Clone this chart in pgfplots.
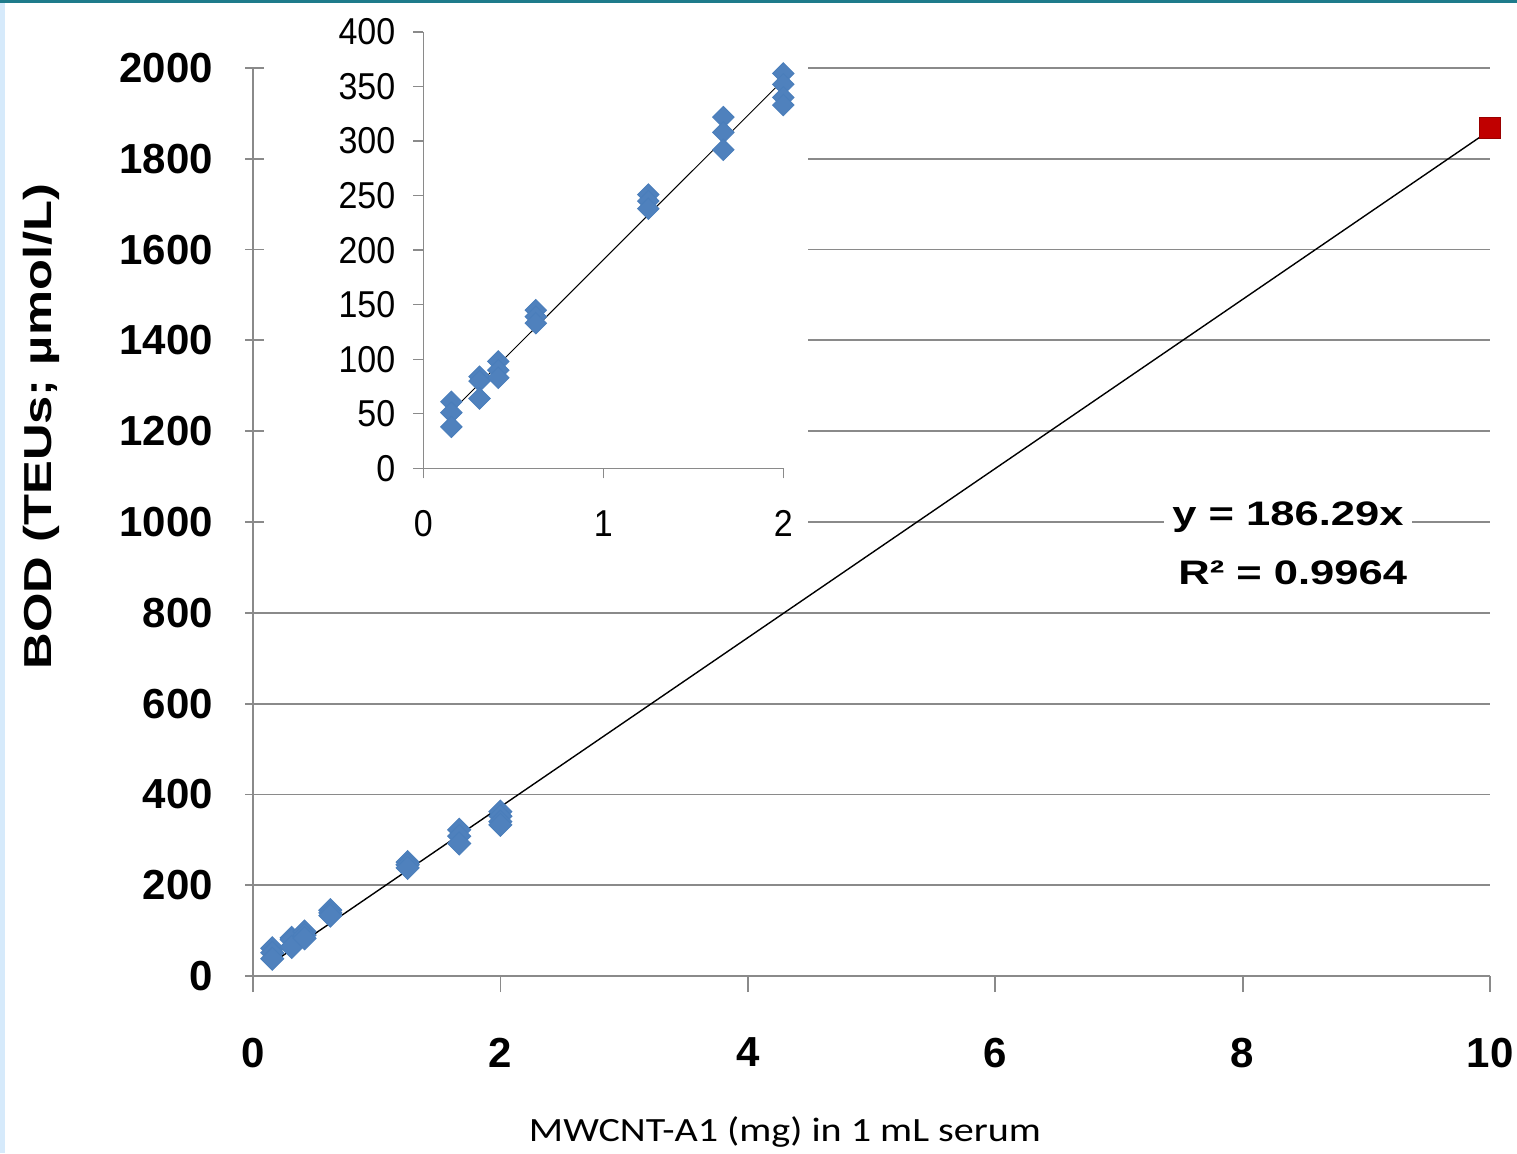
\documentclass[border=0pt]{standalone}
\usepackage{pgfplots}
\pgfplotsset{compat=1.18}
\usepackage{pgfplotstable}
\usepackage{graphicx}
\usepackage{fontspec}
\setmainfont{Liberation Sans}
\newfontfamily\calibri{Carlito}

\definecolor{excelblue}{HTML}{4F81BD}
\definecolor{exceledge}{HTML}{4A7EBB}
\definecolor{excelred}{HTML}{C00000}
\definecolor{gridgray}{HTML}{8A8A8A}
\definecolor{frameteal}{HTML}{1E7B8B}
\definecolor{framesky}{HTML}{D6EAFB}

% BOD readings for each MWCNT-A1 load (mg per mL serum)
\pgfplotstableread{
x y
0.156 61
0.156 51
0.156 38
0.3125 84
0.3125 80
0.3125 64
0.4167 98
0.4167 90
0.4167 83
0.625 145
0.625 139
0.625 133
1.25 251
1.25 245
1.25 238
1.667 322
1.667 308
1.667 292
2.0 362
2.0 352
2.0 340
2.0 333
}\bodtable

% extrapolated 10 mg point
\pgfplotstableread{
x y
10 1868
}\bodhigh

\begin{document}
\begin{tikzpicture}
\useasboundingbox (0,0) rectangle (758.5pt,576.5pt);
\fill[white] (0,0) rectangle (758.5pt,576.5pt);
\fill[framesky] (0,0) rectangle (2.5pt,576.5pt);
\fill[frameteal] (0,575pt) rectangle (758.5pt,576.5pt);

% main chart
\begin{axis}[
  at={(126.5pt,88.5pt)}, anchor=south west,
  scale only axis, width=618.5pt, height=454pt,
  xmin=0, xmax=10, ymin=0, ymax=2000,
  axis x line=bottom, axis y line=left,
  axis line style={-, gridgray, line width=0.9pt},
  xtick={0,2,...,10}, ytick={0,200,...,2000},
  ymajorgrids, grid style={gridgray, line width=0.9pt},
  major tick length=8pt,
  xtick align=outside, ytick align=center,
  tick style={gridgray, line width=0.9pt},
  /pgf/number format/assume math mode=true,
  /pgf/number format/1000 sep={},
  tick label style={font=\fontsize{21pt}{21pt}\selectfont\bfseries, text=black},
  yticklabel style={anchor=east, xshift=-12.5pt},
  xticklabel style={anchor=north, yshift=-19.5pt},
  clip=false,
]
\addplot[black, line width=0.7pt] coordinates {(0.156,29.06) (10,1862.9)};
\addplot[only marks, mark=square*, mark size=4.1pt,
  mark options={rotate=45, fill=excelblue, draw=exceledge}] table[x=x,y=y] {\bodtable};
\addplot[only marks, mark=square*, mark size=5.2pt,
  mark options={fill=excelred, draw=excelred!80!black}] table[x=x,y=y] {\bodhigh};
\end{axis}

% blank panel behind the inset
\fill[white] (132pt,302.5pt) rectangle (404pt,575pt);

% inset: low-load range
\begin{axis}[
  at={(211.65pt,342.35pt)}, anchor=south west,
  scale only axis, width=180pt, height=218.15pt,
  xmin=0, xmax=2, ymin=0, ymax=400,
  axis x line=bottom, axis y line=left,
  axis line style={-, gridgray, line width=0.7pt},
  xtick={0,1,2}, ytick={0,50,...,400},
  major tick length=5pt, tick align=outside,
  tick style={gridgray, line width=0.7pt},
  /pgf/number format/assume math mode=true,
  tick label style={font=\fontsize{17pt}{17pt}\selectfont, text=black, yscale=1.1},
  yticklabel style={xshift=-5.5pt},
  xticklabel style={yshift=-11pt},
  clip=false,
]
\addplot[black, line width=0.5pt] coordinates {(0.156,52) (2,356)};
\addplot[only marks, mark=square*, mark size=3.8pt,
  mark options={rotate=45, fill=excelblue, draw=exceledge}] table[x=x,y=y] {\bodtable};
\end{axis}

% trendline statistics
\node[fill=white, anchor=west, inner sep=4pt] at (582pt,318pt)
  {\fontsize{17pt}{17pt}\selectfont\bfseries\scalebox{1.28}[1]{y = 186.29x}};
\node[fill=white, anchor=west, inner sep=2pt] at (587pt,290pt)
  {\fontsize{17pt}{17pt}\selectfont\bfseries\scalebox{1.28}[1]{R² = 0.9964}};

% axis titles
\node[rotate=90, anchor=base] at (25.5pt,363.25pt)
  {\fontsize{19.5pt}{20pt}\selectfont\bfseries\scalebox{1.3}[1]{BOD (TEUs; µmol/L)}};
\node[anchor=base] at (392.5pt,6pt)
  {\calibri\fontsize{17pt}{18pt}\selectfont\scalebox{1.18}[1]{MWCNT-A1 (mg) in 1 mL serum}};
\end{tikzpicture}
\end{document}
